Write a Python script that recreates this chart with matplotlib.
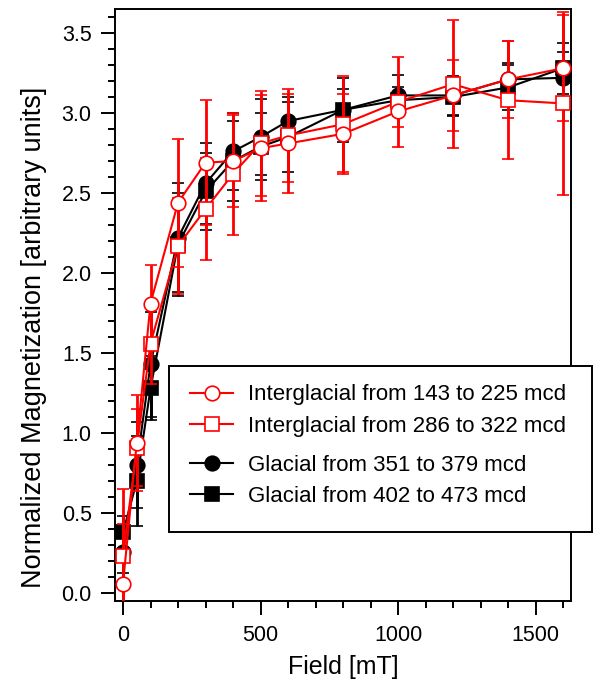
"""
Normalized magnetization vs. field for interglacial / glacial sediment intervals
"""
import matplotlib
matplotlib.use('Agg')
import numpy as np
import matplotlib.pyplot as plt
from matplotlib.patches import Rectangle
from matplotlib.ticker import MultipleLocator, FormatStrFormatter

###############################################################################
# data:

field = [0, 50, 100, 200, 300, 400, 500, 600, 800, 1000, 1200, 1400, 1600]

ig1_mean = [0.06, 0.94, 1.81, 2.44, 2.69, 2.70, 2.78, 2.81, 2.87, 3.01, 3.11, 3.21, 3.28]
ig1_err = [0.375, 0.30, 0.24, 0.40, 0.39, 0.29, 0.33, 0.31, 0.25, 0.10, 0.22, 0.24, 0.33]

ig2_mean = [0.23, 0.91, 1.56, 2.17, 2.40, 2.62, 2.81, 2.86, 2.93, 3.07, 3.18, 3.08, 3.06]
ig2_err = [0.42, 0.24, 0.25, 0.30, 0.32, 0.38, 0.33, 0.29, 0.30, 0.28, 0.40, 0.37, 0.57]

gl1_mean = [0.26, 0.80, 1.43, 2.22, 2.56, 2.76, 2.85, 2.95, 3.02, 3.11, 3.11, 3.21, 3.22]
gl1_err = [0.135, 0.27, 0.33, 0.34, 0.25, 0.24, 0.24, 0.15, 0.13, 0.13, 0.12, 0.10, 0.16]

gl2_mean = [0.38, 0.70, 1.28, 2.18, 2.51, 2.70, 2.79, 2.85, 3.02, 3.08, 3.10, 3.16, 3.28]
gl2_err = [0.10, 0.28, 0.20, 0.32, 0.24, 0.25, 0.21, 0.22, 0.20, 0.08, 0.12, 0.14, 0.16]

labels = ['Interglacial from 143 to 225 mcd',
          'Interglacial from 286 to 322 mcd',
          'Glacial from 351 to 379 mcd',
          'Glacial from 402 to 473 mcd']

###############################################################################
# setup:

plt.rcParams['font.family'] = ['Liberation Sans', 'DejaVu Sans']
tick_fontsize = 15.5
xlabel_fontsize = 18.0
ylabel_fontsize = 19.5
legend_fontsize = 16.0

W, H = 604, 681
fig = plt.figure(figsize=(W / 100, H / 100), dpi=100)
ax = fig.add_axes([115.3 / W, 1 - 601 / H, (571.3 - 115.3) / W, (601 - 9.3) / H])

def px(x, y):
    return x / W, 1 - y / H

###############################################################################
# plot:

common = dict(lw=1.5, elinewidth=2.0, capsize=4.0, capthick=2.0,
              markersize=10.5, markeredgewidth=1.2)

h_gl1 = ax.errorbar(field, gl1_mean, yerr=gl1_err, color='black', marker='o',
                    mfc='black', mec='black', ecolor='black', zorder=2, **common)
h_gl2 = ax.errorbar(field, gl2_mean, yerr=gl2_err, color='black', marker='s',
                    mfc='black', mec='black', ecolor='black', zorder=2, **common)
h_ig2 = ax.errorbar(field, ig2_mean, yerr=ig2_err, color='red', marker='s',
                    mfc='white', mec='red', ecolor='red', zorder=3, **common)
h_ig1 = ax.errorbar(field, ig1_mean, yerr=ig1_err, color='red', marker='o',
                    mfc='white', mec='red', ecolor='red', zorder=3, **common)

ax.set_xlim(-28, 1630)
ax.set_ylim(-0.048, 3.648)

ax.xaxis.set_major_locator(MultipleLocator(500))
ax.xaxis.set_minor_locator(MultipleLocator(100))
ax.yaxis.set_major_locator(MultipleLocator(0.5))
ax.yaxis.set_minor_locator(MultipleLocator(0.1))
ax.yaxis.set_major_formatter(FormatStrFormatter('%.1f'))

ax.tick_params(which='major', direction='out', length=10, width=1.4,
               labelsize=tick_fontsize, pad=7)
ax.tick_params(which='minor', direction='out', length=5, width=1.4)
for s in ax.spines.values():
    s.set_linewidth(1.4)

ax.set_xlabel('Field [mT]', fontsize=xlabel_fontsize, labelpad=7)
ax.set_ylabel('Normalized Magnetization [arbitrary units]', fontsize=ylabel_fontsize)
ax.yaxis.set_label_coords(-0.150, 0.445)

# legend box + two groups of entries
x0, y0 = px(169, 532)
x1, y1 = px(592, 366)
fig.patches.append(Rectangle((x0, y0), x1 - x0, y1 - y0, transform=fig.transFigure,
                             facecolor='white', edgecolor='black', lw=1.4, zorder=5))

leg_kw = dict(fontsize=legend_fontsize, frameon=False, borderpad=0.0,
              borderaxespad=0.0, handlelength=1.94, handletextpad=0.68,
              labelspacing=0.46, loc='upper left',
              bbox_transform=fig.transFigure)
leg1 = fig.legend([h_ig1[0], h_ig2[0]], labels[:2], bbox_to_anchor=px(190, 384.5), **leg_kw)
leg2 = fig.legend([h_gl1[0], h_gl2[0]], labels[2:], bbox_to_anchor=px(190, 455), **leg_kw)
leg1.set_zorder(6)
leg2.set_zorder(6)

plt.savefig('out.png', dpi=100)
